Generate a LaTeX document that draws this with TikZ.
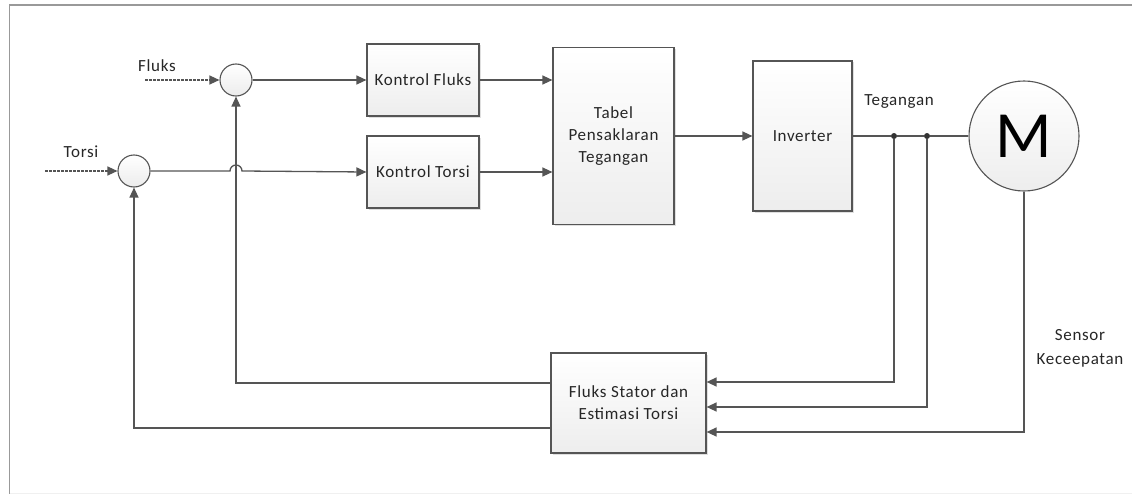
\documentclass[tikz,border=0pt]{standalone}
\usepackage{fontspec}
\setmainfont{Carlito}[LetterSpace=4.0]
\usepackage{tikz}
\usetikzlibrary{arrows.meta,shadows}

\definecolor{garis}{HTML}{555555}

\begin{document}
\begin{tikzpicture}[x=1pt,y=-1pt,
	blok/.style={draw=garis, line width=1.2pt, top color=white, bottom color=gray!14,
		drop shadow={opacity=0.25,shadow xshift=1.5pt,shadow yshift=-1.5pt},
		align=center, text=black!85, inner sep=0pt, font=\fontsize{17}{22}\selectfont},
	jumlah/.style={circle, draw=garis, line width=1.1pt, top color=white, bottom color=gray!15,
		minimum size=32pt, inner sep=0pt},
	panah/.style={draw=garis, line width=1.3pt, -{Triangle[length=10pt,width=9pt]}},
	putus/.style={panah, dash pattern=on 2.5pt off 1.5pt},
	garisan/.style={draw=garis, line width=1.3pt},
	label/.style={font=\fontsize{17}{24}\selectfont, text=black!85, align=center},
	titik/.style={circle, fill=black!80, minimum size=6pt, inner sep=0pt}]
	\useasboundingbox (0,0) rectangle (1132,495);
	\draw[gray!80, line width=1.5pt] (1140,5) -- (9.5,5) -- (9.5,494);
	\draw[gray!12, line width=1pt] (9.5,493.5) -- (1140,493.5);
	
	% penjumlah
	\node[jumlah] (sumF) at (236,80) {};
	\node[jumlah] (sumT) at (134,171) {};
	\coordinate (inF) at (145,80);
	\coordinate (inT) at (45,171);
	\node[label] (lblF) at (157,66) {Fluks};
	\node[label] (lblT) at (81,152) {Torsi};
	
	% blok
	\node[blok, minimum width=112pt, minimum height=72pt] (kf) at (423,80) {Kontrol Fluks};
	\node[blok, minimum width=112pt, minimum height=72pt] (kt) at (423,172) {Kontrol Torsi};
	\node[blok, minimum width=121pt, minimum height=177pt] (tabel) at (613.5,136) {Tabel\\Pensaklaran\\Tegangan};
	\node[blok, minimum width=99pt, minimum height=150pt] (inv) at (802.5,136) {Inverter};
	\node[blok, minimum width=155pt, minimum height=100pt] (est) at (628.5,403) {Fluks Stator dan\\Estimasi Torsi};
	\node[circle, draw=garis, line width=1.1pt, top color=white, bottom color=gray!14,
		minimum size=110pt, inner sep=0pt, font=\fontsize{66}{66}\selectfont] (motor) at (1024,136) {M};
	
	\node[titik] (d1) at (894,136) {};
	\node[titik] (d2) at (927,136) {};
	\node[label] (lblV) at (899,102) {Tegangan};
	\node[label] (lblS) at (1080,348) {Sensor\\Keceepatan};
	
	\coordinate (c1) at (894,382);
	\coordinate (c2) at (927,407);
	\coordinate (c3) at (1024,432);
	\coordinate (f1) at (236,383);
	\coordinate (f2) at (134,428);
	
	% sambungan
	\draw[putus] (inF) -- (sumF.west);
	\draw[putus] (inT) -- (sumT.west);
	\draw[panah] (sumF.east) -- (kf.west);
	\draw[panah] (sumT.east) -- (230,171) arc (180:360:6) -- (kt.west);
	\draw[panah] (kf.east) -- (tabel.west |- kf);
	\draw[panah] (kt.east) -- (tabel.west |- kt);
	\draw[panah] (tabel.east |- inv) -- (inv.west);
	\draw[garisan] (inv.east) -- (d1) -- (d2) -- (motor.west);
	\draw[panah] (d1) -- (c1) -- (est.east |- c1);
	\draw[panah] (d2) -- (c2) -- (est.east |- c2);
	\draw[panah] (motor.south) -- (c3) -- (est.east |- c3);
	\draw[panah] (est.west |- f1) -- (f1) -- (sumF.south);
	\draw[panah] (est.west |- f2) -- (f2) -- (sumT.south);
\end{tikzpicture}
\end{document}
